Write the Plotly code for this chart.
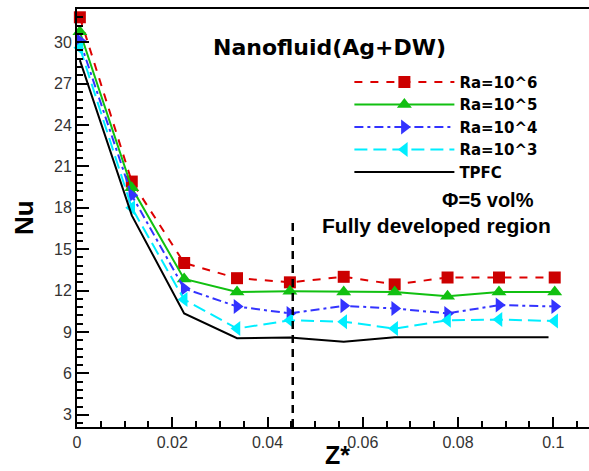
import plotly.graph_objects as go

# ---- data ----
z = [0.0006, 0.0115, 0.0225, 0.0336, 0.0447, 0.0560, 0.0667, 0.0778, 0.0886, 0.1003]
z_tpfc = [0.0006, 0.0115, 0.0225, 0.0336, 0.0447, 0.0560, 0.0667, 0.0778, 0.0886, 0.0990]
nu_ra6 = [31.8, 19.9, 14.0, 12.9, 12.6, 13.0, 12.45, 12.95, 12.95, 12.95]
nu_ra5 = [30.75, 19.45, 12.85, 11.9, 11.95, 11.9, 11.9, 11.6, 11.9, 11.9]
nu_ra4 = [30.1, 18.9, 12.15, 10.85, 10.35, 10.9, 10.7, 10.35, 10.95, 10.85]
nu_ra3 = [29.6, 18.0, 11.35, 9.25, 9.85, 9.75, 9.25, 9.85, 9.9, 9.8]
nu_tpfc = [28.7, 17.45, 10.35, 8.55, 8.6, 8.3, 8.62, 8.62, 8.62, 8.62]
names = ["Ra=10^6", "Ra=10^5", "Ra=10^4", "Ra=10^3", "TPFC"]
fd_z = 0.0453          # fully developed region marker
fd_top = 17.2
x_ticks = [0, 0.02, 0.04, 0.06, 0.08, 0.1]
x_ticklabels = ["0", "0.02", "0.04", "0.06", "0.08", "0.1"]
y_ticks = [3, 6, 9, 12, 15, 18, 21, 24, 27, 30]

fig = go.Figure()
fig.add_trace(go.Scatter(x=z, y=nu_ra6, name=names[0], mode="lines+markers",
                         line=dict(color="#dd0000", width=2, dash="8px,8px"),
                         marker=dict(symbol="square", size=12, color="#cc0000"),
                         cliponaxis=False))
fig.add_trace(go.Scatter(x=z, y=nu_ra5, name=names[1], mode="lines+markers",
                         line=dict(color="#11c011", width=2),
                         marker=dict(symbol="triangle-up", size=13, color="#11c011"),
                         cliponaxis=False))
fig.add_trace(go.Scatter(x=z, y=nu_ra4, name=names[2], mode="lines+markers",
                         line=dict(color="#3333ff", width=2, dash="9px,4px,3px,4px"),
                         marker=dict(symbol="triangle-right", size=13, color="#3333ff"),
                         cliponaxis=False))
fig.add_trace(go.Scatter(x=z, y=nu_ra3, name=names[3], mode="lines+markers",
                         line=dict(color="#00eeff", width=2, dash="13px,6px"),
                         marker=dict(symbol="triangle-left", size=13, color="#00eeff"),
                         cliponaxis=False))
fig.add_trace(go.Scatter(x=z_tpfc, y=nu_tpfc, name=names[4], mode="lines",
                         line=dict(color="black", width=2)))

fig.add_shape(type="line", x0=fd_z, x1=fd_z, y0=2.12, y1=fd_top, xref="x", yref="y",
              line=dict(color="black", width=2.5, dash="8px,6px"))

arial = "Liberation Sans, Arial, sans-serif"
dejavu = "DejaVu Sans, Verdana, sans-serif"


def note(text, x, y, size, family, angle=0):
    fig.add_annotation(text="<b>" + text + "</b>", xref="paper", yref="paper",
                       x=x, y=y, xanchor="center", yanchor="middle",
                       showarrow=False, textangle=angle,
                       font=dict(size=size, family=family, color="black"))


note("Nanofluid(Ag+DW)", 0.494, 0.907, 22, dejavu)
note("Φ=5 vol%", 0.802, 0.543, 20, arial)
note("Fully developed region", 0.703, 0.483, 21, arial)
note("Nu", -0.104, 0.502, 26, arial, angle=-90)
note("Z*", 0.508, -0.068, 25, arial)

tickfont = dict(family=arial, size=16, color="#333333")
fig.update_layout(
    width=589, height=471,
    margin=dict(l=77, r=0, t=9, b=44, autoexpand=False),
    paper_bgcolor="white", plot_bgcolor="white",
    showlegend=True,
    legend=dict(x=0.532, y=0.864, xanchor="left", yanchor="top",
                bgcolor="rgba(0,0,0,0)", itemwidth=100,
                font=dict(size=15, weight="bold", family=dejavu, color="black"),
                tracegroupgap=0),
    xaxis=dict(range=[0, 0.1075], tickvals=x_ticks, ticktext=x_ticklabels,
               automargin=False,
               ticks="inside", ticklen=10, tickwidth=2, tickcolor="black",
               showline=True, linewidth=2, linecolor="black", mirror=True,
               showgrid=False, zeroline=False, tickfont=tickfont,
               minor=dict(ticks="inside", ticklen=6, tickwidth=1.5,
                          tickcolor="black", dtick=0.005, tick0=0)),
    yaxis=dict(range=[2.12, 32.4], tickvals=y_ticks, automargin=False,
               ticks="inside", ticklen=12, tickwidth=2, tickcolor="black",
               showline=True, linewidth=2, linecolor="black",
               showgrid=False, zeroline=False, tickfont=tickfont,
               minor=dict(ticks="inside", ticklen=6, tickwidth=1.5,
                          tickcolor="black", dtick=0.6, tick0=0)),
)
fig.write_html("out.html", config={"displayModeBar": False},
               post_script="document.body.style.margin='0';"
                           "document.body.style.overflow='hidden';")
